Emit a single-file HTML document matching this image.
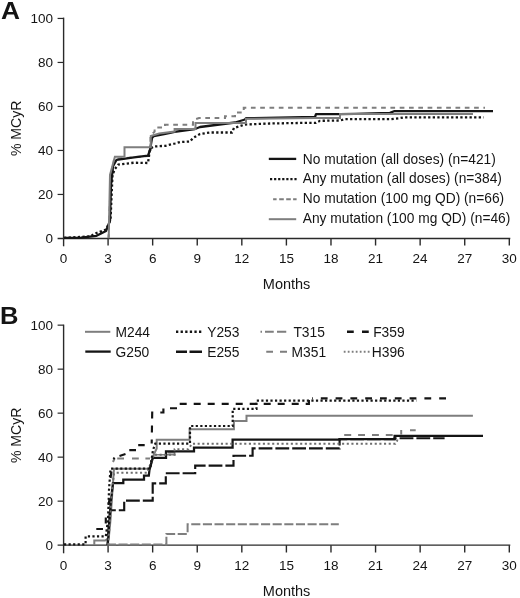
<!DOCTYPE html>
<html lang="en">
<head>
<meta charset="utf-8">
<title>MCyR by mutation status</title>
<style>
html,body{margin:0;padding:0;background:#fff;}
body{width:520px;height:598px;overflow:hidden;}
svg{display:block;font-family:"Liberation Sans",Arial,Helvetica,sans-serif;}
</style>
</head>
<body>
<svg width="520" height="598" viewBox="0 0 520 598">
<rect x="0" y="0" width="520" height="598" fill="#ffffff"/>
<text transform="translate(1.1,19.1) scale(1.07,1)" font-size="24.6px" font-weight="bold" fill="#141414">A</text>
<g stroke="#2a2a2a" fill="none"><path d="M63.6,17.6 V246.3" stroke-width="1.4"/><path d="M57.6,238.45 H510.3" stroke-width="1.4"/><path d="M57.6,194.45 H63.6" stroke-width="1.2"/><path d="M57.6,150.45 H63.6" stroke-width="1.2"/><path d="M57.6,106.45 H63.6" stroke-width="1.2"/><path d="M57.6,62.45 H63.6" stroke-width="1.2"/><path d="M57.6,18.45 H63.6" stroke-width="1.2"/><path d="M108.08,238.45 V245.5" stroke-width="1.4"/><path d="M152.66,238.45 V245.5" stroke-width="1.4"/><path d="M197.24,238.45 V245.5" stroke-width="1.4"/><path d="M241.82,238.45 V245.5" stroke-width="1.4"/><path d="M286.40,238.45 V245.5" stroke-width="1.4"/><path d="M330.98,238.45 V245.5" stroke-width="1.4"/><path d="M375.56,238.45 V245.5" stroke-width="1.4"/><path d="M420.14,238.45 V245.5" stroke-width="1.4"/><path d="M464.72,238.45 V245.5" stroke-width="1.4"/><path d="M509.30,238.45 V245.5" stroke-width="1.4"/></g><g font-size="13.5px" fill="#141414" text-anchor="end"><text x="53.1" y="243.25">0</text><text x="53.1" y="199.25">20</text><text x="53.1" y="155.25">40</text><text x="53.1" y="111.25">60</text><text x="53.1" y="67.25">80</text><text x="53.1" y="23.25">100</text></g><g font-size="13.5px" fill="#141414" text-anchor="middle"><text x="63.50" y="263.4">0</text><text x="108.08" y="263.4">3</text><text x="152.66" y="263.4">6</text><text x="197.24" y="263.4">9</text><text x="241.82" y="263.4">12</text><text x="286.40" y="263.4">15</text><text x="330.98" y="263.4">18</text><text x="375.56" y="263.4">21</text><text x="420.14" y="263.4">24</text><text x="464.72" y="263.4">27</text><text x="509.30" y="263.4">30</text></g><text x="286.6" y="289.2" font-size="14.5px" fill="#141414" text-anchor="middle">Months</text><text transform="translate(20.7,128.3) rotate(-90)" font-size="14.1px" fill="#141414" text-anchor="middle">% MCyR</text>
<path d="M108.5,238 L110,200 L114,159 L148,156 L150.5,155 V136 L154.6,131.5 V127.5 H165 V124.8 H193 V120 L199,118 H225 V116.25 H235 V112.5 H243.75 V107.8 H485" fill="none" stroke="#7e7e7e" stroke-width="2" stroke-dasharray="4.7 4.6" stroke-dashoffset="0.94"/>
<path d="M64,237.9 L90,236.4 L96.5,233 L106,229.5 L110.5,220 L111.4,200 L112.5,175 L114.9,169 L118.4,164.5 L134,162.7 L148,163 L150,148.8 L153.8,146.5 L165.4,145.8 L175,143.5 L180,142 L190,141.5 L193,138 L200,134 L210,132.5 L232,132.5 L234,128 L245,124.5 L270,123.5 L310,122.8 L316,122.8 L320,120.8 L340,120.5 L345,119.2 L390,119.2 L400,118.1 L404,117.3 H483.7" fill="none" stroke="#141414" stroke-width="2.3" stroke-dasharray="2.3 2.3"/>
<path d="M64,237.9 L81,237.6 L96.5,235.8 L106,231 L110,220.7 L111,184 L113,166.3 L116.6,159.8 L134,157.4 L148,155.6 L150,150 L152,138 L153.8,136 L165.4,133.8 L174.6,131.8 L195,129 L200,127 L235,122.5 L245,119.5 L246,118.2 L315,117 L316,114.2 H340 L355,113.9 L390,112.9 L394,111.2 H493" fill="none" stroke="#141414" stroke-width="2.3" stroke-linejoin="round"/>
<path d="M108.7,238.3 L110,175 L114.9,156.7 H124.5 V147.2 H150.8 V136 L159.2,133.5 L174.6,131.5 V129 H195.5 V123 H246 V118.75 L315,117.9 H340 V114 H473" fill="none" stroke="#7e7e7e" stroke-width="2" stroke-linejoin="miter"/>
<path d="M268.8,158.9 H296.2" stroke="#141414" stroke-width="2.3"/>
<path d="M270,179.2 H296.6" stroke="#141414" stroke-width="2.3" stroke-dasharray="2.2 1.87"/>
<path d="M273.1,199.2 H276.6 M279.2,199.2 H283.8 M286.2,199.2 H290.8 M293.1,199.2 H296.6" stroke="#7e7e7e" stroke-width="2"/>
<path d="M268.8,219.2 H296.2" stroke="#7e7e7e" stroke-width="2"/>
<g font-size="13.75px" fill="#141414">
<text x="302.8" y="163.80">No mutation (all doses) (n=421)</text>
<text x="302.8" y="183.40">Any mutation (all doses) (n=384)</text>
<text x="302.8" y="202.90">No mutation (100 mg QD) (n=66)</text>
<text x="302.8" y="222.80">Any mutation (100 mg QD) (n=46)</text>
</g>
<text transform="translate(0,323.9) scale(1.04,1)" font-size="24.6px" font-weight="bold" fill="#141414">B</text>
<g stroke="#2a2a2a" fill="none"><path d="M63.6,324.6 V553.3" stroke-width="1.4"/><path d="M57.6,545.15 H510.3" stroke-width="1.4"/><path d="M57.6,501.15 H63.6" stroke-width="1.2"/><path d="M57.6,457.15 H63.6" stroke-width="1.2"/><path d="M57.6,413.15 H63.6" stroke-width="1.2"/><path d="M57.6,369.15 H63.6" stroke-width="1.2"/><path d="M57.6,325.15 H63.6" stroke-width="1.2"/><path d="M108.08,545.15 V552.5" stroke-width="1.4"/><path d="M152.66,545.15 V552.5" stroke-width="1.4"/><path d="M197.24,545.15 V552.5" stroke-width="1.4"/><path d="M241.82,545.15 V552.5" stroke-width="1.4"/><path d="M286.40,545.15 V552.5" stroke-width="1.4"/><path d="M330.98,545.15 V552.5" stroke-width="1.4"/><path d="M375.56,545.15 V552.5" stroke-width="1.4"/><path d="M420.14,545.15 V552.5" stroke-width="1.4"/><path d="M464.72,545.15 V552.5" stroke-width="1.4"/><path d="M509.30,545.15 V552.5" stroke-width="1.4"/></g><g font-size="13.5px" fill="#141414" text-anchor="end"><text x="53.1" y="549.95">0</text><text x="53.1" y="505.95">20</text><text x="53.1" y="461.95">40</text><text x="53.1" y="417.95">60</text><text x="53.1" y="373.95">80</text><text x="53.1" y="329.95">100</text></g><g font-size="13.5px" fill="#141414" text-anchor="middle"><text x="63.50" y="570.4">0</text><text x="108.08" y="570.4">3</text><text x="152.66" y="570.4">6</text><text x="197.24" y="570.4">9</text><text x="241.82" y="570.4">12</text><text x="286.40" y="570.4">15</text><text x="330.98" y="570.4">18</text><text x="375.56" y="570.4">21</text><text x="420.14" y="570.4">24</text><text x="464.72" y="570.4">27</text><text x="509.30" y="570.4">30</text></g><text x="286.6" y="596.2" font-size="14.5px" fill="#141414" text-anchor="middle">Months</text><text transform="translate(20.7,435.3) rotate(-90)" font-size="14.1px" fill="#141414" text-anchor="middle">% MCyR</text>
<path d="M107,544.5 H166.4 V533.9 H187.6 V524.2 H338.8" fill="none" stroke="#7e7e7e" stroke-width="2.0" stroke-dasharray="9.1 2.53" stroke-dashoffset="0.12"/>
<path d="M94.3,545 V540.5 H105 L108.8,538 L110.5,520 L112.5,490 L114,468.7 H150 L153.8,454.5 L156.7,448.5 V439.8 H189.6 V429.2 H233.9 V421.1 H246.5 V415.7 H472.9" fill="none" stroke="#7e7e7e" stroke-width="2.0"/>
<path d="M153.3,454.8 H174.6 V451.3 M167.7,452.6 H174.6" fill="none" stroke="#7e7e7e" stroke-width="1.6"/>
<path d="M113,462 L114.5,458.5 M117.2,458.5 H124 M132,458.5 H138.8 M145.4,458.5 H150 M344.2,434.9 H351.2 M358.1,434.9 H365 M372,434.9 H378.9 M385.8,434.9 H392.7 M401.2,434.5 V430 M410,430.2 H415.7" fill="none" stroke="#7e7e7e" stroke-width="2.0"/>
<path d="M107.8,545 L109,525 L111,500 L113,483 H123.3 V479.7 H144 V475.7 H148.8 L149.5,469.5 L152.7,457.9 H166 V451.3 H194 V447.7 H232.6 V439.6 H339.6 V439 H394.6 V435.8 H483" fill="none" stroke="#141414" stroke-width="2.25"/>
<path d="M107.5,545 L108.5,530 L110,512 L110.4,510.2 H124.2 V500.6 H152.7 V483.4 H165.8 V473.2 H195.2 V465.6 H233.5 V455.7 H252.6 V448.4 H339.6 V439.2 H394.6 V438.2 H444.6" fill="none" stroke="#141414" stroke-width="2.15" stroke-dasharray="13.8 3" stroke-dashoffset="7.06"/>
<path d="M108.2,545 L110,520 L112,490 L114,473.5 L116.5,472.7 H147.5 L150,465 L152.5,458 L153.3,454.8 H174.6 V449.3 H188.4 L192,443.7 H395.4 L397,441 L398,437" fill="none" stroke="#6e6e6e" stroke-width="2" stroke-dasharray="2.1 2.56"/>
<path d="M151.7,443.6 L152.2,412.5 H163.4 V408.2 H178 V403.9 H308.9 V398.3 H312" fill="none" stroke="#141414" stroke-width="2.15" stroke-dasharray="7 7" stroke-dashoffset="2.80"/>
<path d="M96.3,529 H103 M105.8,523.6 V517.6 M108.6,505 L109.6,498.5 M110.6,478 L111.4,471.5 M113.4,459 L114.6,457.6 M119.5,456 L125.5,454 M129.3,450.1 H136 M138.2,445.1 H144.7" fill="none" stroke="#141414" stroke-width="2.15"/>
<path d="M446,398.3 H312" fill="none" stroke="#141414" stroke-width="2.15" stroke-dasharray="6.8 8"/>
<path d="M64,544.4 H85.6 V536.4 H105.8 L108,520 L109,490 L110.5,468.7 H150.2 L153,450 L155.3,443.7 H190 V426 H232.7 V408.9 H256.5 V400.6 H416.3" fill="none" stroke="#141414" stroke-width="2.2" stroke-dasharray="2.2 2.35"/>
<path d="M85,331.8 H110.3" stroke="#7e7e7e" stroke-width="2"/>
<path d="M85.3,351.6 H110.7" stroke="#141414" stroke-width="2.3"/>
<path d="M176,331.8 H202" stroke="#141414" stroke-width="2.4" stroke-dasharray="2.3 2.3"/>
<path d="M176,351.8 H187 M189.5,351.8 H202" stroke="#141414" stroke-width="2.4"/>
<path d="M260.5,331.8 H262 M265,331.8 H273.75 M277,331.8 H286.25" stroke="#7e7e7e" stroke-width="2"/>
<path d="M266.25,351.8 H273 M280,351.8 H287" stroke="#7e7e7e" stroke-width="2"/>
<path d="M347,331.8 H353.75 M362,331.8 H368.75" stroke="#141414" stroke-width="2.4"/>
<path d="M343.75,351.8 H369.6" stroke="#7e7e7e" stroke-width="2" stroke-dasharray="1.8 2.2"/>
<g font-size="13.8px" fill="#141414">
<text x="115.5" y="336.80">M244</text>
<text x="115.5" y="356.80">G250</text>
<text x="207.2" y="336.80">Y253</text>
<text x="207.2" y="356.80">E255</text>
<text x="293.4" y="336.80">T315</text>
<text x="291.6" y="356.80">M351</text>
<text x="373.2" y="336.80">F359</text>
<text x="371.8" y="356.80">H396</text>
</g>
</svg>
</body>
</html>
